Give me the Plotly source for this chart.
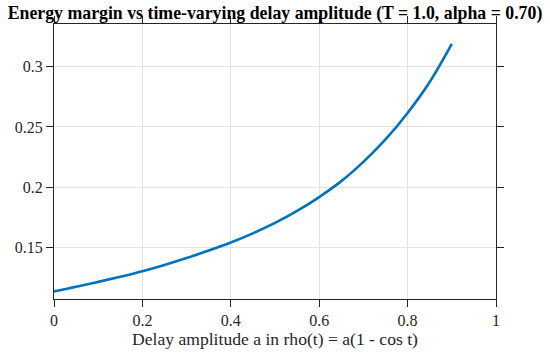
import plotly.graph_objects as go

amplitude = [0.0, 0.05, 0.1, 0.15, 0.2, 0.25, 0.3, 0.35, 0.4, 0.45, 0.5,
             0.55, 0.6, 0.65, 0.7, 0.75, 0.8, 0.85, 0.9]
energy_margin = [0.1135, 0.1173, 0.1214, 0.1257, 0.1303, 0.1355, 0.1412, 0.1474,
                 0.1541, 0.1617, 0.1703, 0.1803, 0.1918, 0.2050, 0.2210, 0.2396,
                 0.2616, 0.2873, 0.3189]
x_ticks = [0, 0.2, 0.4, 0.6, 0.8, 1]
x_tick_labels = ["0", "0.2", "0.4", "0.6", "0.8", "1"]
y_ticks = [0.15, 0.2, 0.25, 0.3]
y_tick_labels = ["0.15", "0.2", "0.25", "0.3"]

FONT = "Liberation Serif"
AX = "#262626"

fig = go.Figure()
fig.add_trace(go.Scatter(x=amplitude, y=energy_margin, mode="lines",
                         line=dict(color="#0072BD", width=2.6, shape="spline", smoothing=1.0),
                         showlegend=False, hoverinfo="skip"))

axis_common = dict(showline=True, linecolor=AX, linewidth=1, mirror="ticks",
                   ticks="outside", ticklen=7, tickwidth=1, tickcolor=AX,
                   showgrid=True, gridcolor="#e3e3e3", gridwidth=1, automargin=False,
                   zeroline=False, tickfont=dict(family=FONT, size=16, color=AX))

fig.update_layout(
    width=550, height=356,
    margin=dict(l=54, r=54, t=24, b=57),
    paper_bgcolor="white", plot_bgcolor="white",
    font=dict(family=FONT, color=AX),
    title=dict(text="<b>Energy margin vs time-varying delay amplitude (T = 1.0, alpha = 0.70)</b>",
               font=dict(family=FONT, size=17.8, color="black"),
               x=0.5, xanchor="center", xref="paper",
               y=1 - 13 / 356, yanchor="middle", yref="container"),
    xaxis=dict(range=[0, 1], tickvals=x_ticks, ticktext=x_tick_labels,
               title=dict(text="Delay amplitude a in rho(t) = a(1 - cos t)",
                          font=dict(family=FONT, size=17.6, color=AX), standoff=2),
               **axis_common),
    yaxis=dict(range=[0.1072, 0.3354], tickvals=y_ticks, ticktext=y_tick_labels,
               **axis_common),
)
fig.write_html("out.html", config={"displayModeBar": False},
               post_script="document.body.style.margin='0';document.body.style.padding='0';")
